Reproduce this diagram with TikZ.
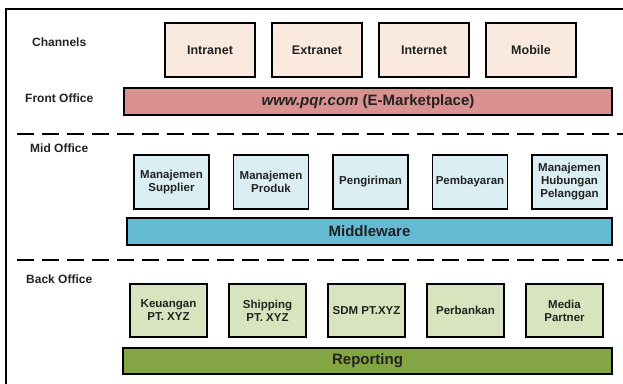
\documentclass[tikz,border=0pt]{standalone}
\usepackage{fontspec}
\setmainfont{Liberation Sans}
\usepackage{tikz}
\usetikzlibrary{positioning}

\definecolor{chanfill}{HTML}{FAE9DE}
\definecolor{frontfill}{HTML}{D9928F}
\definecolor{midfill}{HTML}{DAEEF3}
\definecolor{mwfill}{HTML}{65BAD3}
\definecolor{backfill}{HTML}{D7E4BD}
\definecolor{repfill}{HTML}{83A544}
\definecolor{ink}{HTML}{222222}

\tikzset{
  box/.style={shape=rectangle, draw=black, line width=1.6pt, outer sep=0pt, inner sep=1pt,
    align=center, text=ink, font=\fontsize{11.5}{13}\selectfont\bfseries},
  chanbox/.style={box, fill=chanfill, minimum width=90pt, minimum height=54pt,
    font=\fontsize{12.5}{14}\selectfont\bfseries},
  midbox/.style={box, fill=midfill, minimum width=75pt, minimum height=54pt},
  backbox/.style={box, fill=backfill, minimum width=77pt, minimum height=53pt},
  bar/.style={box, anchor=north west, font=\fontsize{15}{17}\selectfont\bfseries},
  lbl/.style={anchor=west, inner sep=0pt, text=ink, font=\fontsize{12}{14}\selectfont\bfseries},
  divider/.style={line width=2.5pt, dash pattern=on 17pt off 8pt}
}

\begin{document}
\begin{tikzpicture}[x=1pt, y=-1pt]
    \useasboundingbox (0,0) rectangle (623,383);
    \draw[line width=1.8pt] (630,9) -- (6,9) -- (6,390);

    % channels
    \node[lbl] (lchan) at (32,42) {Channels};
    \node[chanbox, anchor=north west] (intranet) at (165,23) {Intranet};
    \node[chanbox, right = 17pt of intranet] (extranet) {Extranet};
    \node[chanbox, right = 17pt of extranet] (internet) {Internet};
    \node[chanbox, right = 17pt of internet] (mobile) {Mobile};

    % front office
    \node[lbl] (lfront) at (25,98) {Front Office};
    \node[bar, fill=frontfill, minimum width=488pt, minimum height=27pt] (front) at (124,88)
      {\itshape www.pqr.com\upshape\ (E-Marketplace)};

    \coordinate (d1a) at (17,134);
    \coordinate (d1b) at (630,134);
    \draw[divider] (d1a) -- (d1b);

    % mid office
    \node[lbl] (lmid) at (30,148) {Mid Office};
    \node[midbox, anchor=north west] (supplier) at (134,155) {Manajemen\\Supplier};
    \node[midbox, right = 24.5pt of supplier] (produk) {Manajemen\\Produk};
    \node[midbox, right = 24.5pt of produk] (kirim) {Pengiriman};
    \node[midbox, right = 24.5pt of kirim] (bayar) {Pembayaran};
    \node[midbox, right = 24.5pt of bayar] (crm) {Manajemen\\Hubungan\\Pelanggan};
    \node[bar, fill=mwfill, minimum width=485pt, minimum height=27pt] (middleware) at (127,218) {Middleware};

    \coordinate (d2a) at (17,260);
    \coordinate (d2b) at (630,260);
    \draw[divider] (d2a) -- (d2b);

    % back office
    \node[lbl] (lback) at (26,279) {Back Office};
    \node[backbox, anchor=north west] (keuangan) at (130,284) {Keuangan\\PT. XYZ};
    \node[backbox, right = 22pt of keuangan] (shipping) {Shipping\\PT. XYZ};
    \node[backbox, right = 22pt of shipping] (sdm) {SDM PT.XYZ};
    \node[backbox, right = 22pt of sdm] (bank) {Perbankan};
    \node[backbox, right = 22pt of bank] (media) {Media\\Partner};
    \node[bar, fill=repfill, minimum width=489pt, minimum height=26pt] (reporting) at (123,348) {Reporting};
\end{tikzpicture}
\end{document}
